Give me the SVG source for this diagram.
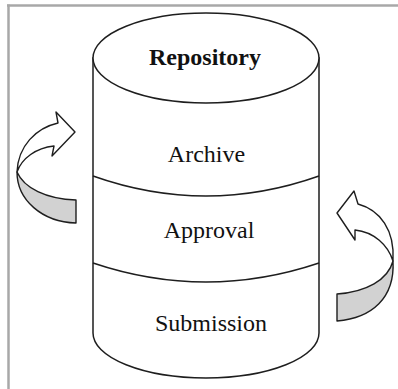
<svg xmlns="http://www.w3.org/2000/svg" width="398" height="389" viewBox="0 0 398 389">
<style>
.ln{fill:none;stroke:#1e1e1e;stroke-width:1.5}
.body{fill:#ffffff;stroke:#1e1e1e;stroke-width:1.5}
.back{fill:#d2d2d2;stroke:#1e1e1e;stroke-width:1.4;stroke-linejoin:round}
.front{fill:#ffffff;stroke:#1e1e1e;stroke-width:1.4;stroke-linejoin:round}
.frame{stroke:#a8a8a8;stroke-width:2.5;fill:none}
.lbl{font-family:"Liberation Serif","Times New Roman",serif;font-size:24px;fill:#111;text-anchor:middle}
</style>
<rect x="0" y="0" width="398" height="389" fill="#ffffff"/>
<g id="frame">
<line class="frame" x1="7" y1="5.5" x2="398" y2="5.5"/>
<line class="frame" x1="8.5" y1="4.5" x2="8.5" y2="389"/>
</g>
<g id="repository-cylinder">
<path class="body" d="M93,58 L93,333 A113,45 0 0 0 319,333 L319,58 Z"/>
<ellipse class="body" cx="206" cy="58" rx="113" ry="45"/>
<path class="ln" d="M93,176 Q206,216 319,176"/>
<path class="ln" d="M93,263 Q206,301 319,263"/>
</g>
<g id="node-repository"><text class="lbl" x="205" y="65" font-weight="bold">Repository</text></g>
<g id="node-archive"><text class="lbl" x="206.5" y="162">Archive</text></g>
<g id="node-approval"><text class="lbl" x="209" y="238">Approval</text></g>
<g id="node-submission"><text class="lbl" x="211" y="331">Submission</text></g>
<g id="connectors">
<g id="arrow-left">
<path class="back" d="M17,172 C24,188 46,199 76,200 L76,223 C42,222 17,200 17,172 Z"/>
<path class="front" d="M58,123 C36,128 18,146 17,172 C22,158 36,148 54,146 L52,156 L75,132 L56,112 Z"/>
</g>
<g id="arrow-right">
<path class="back" d="M393,261 C388,280 366,292 337,294 L337,321 C372,318 395,298 393,261 Z"/>
<path class="front" d="M358,204 C380,210 395,230 393,261 C388,245 374,232 355,230 L355,240 L337,213 L354,191 Z"/>
</g>
</g>
</svg>
